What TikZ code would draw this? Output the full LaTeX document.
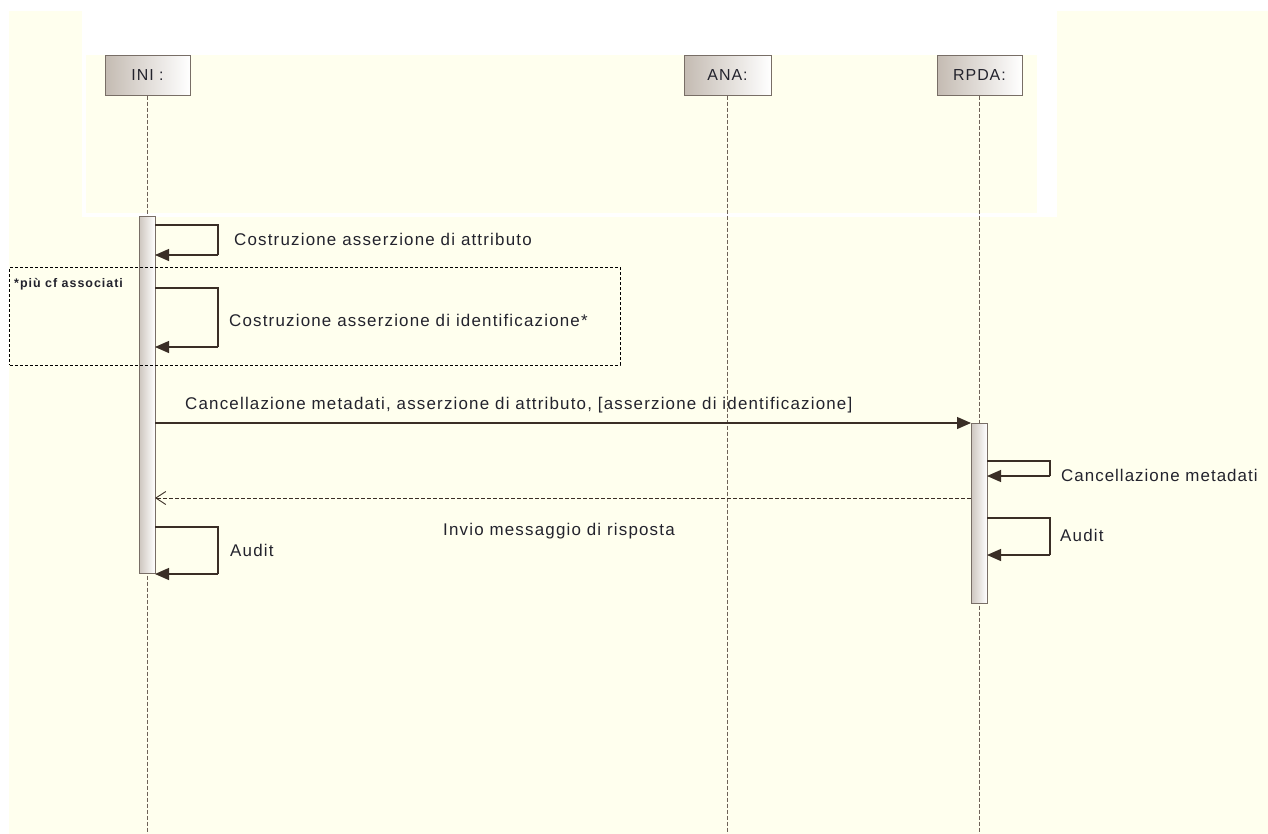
\documentclass[tikz,border=0pt]{standalone}
\usepackage{fontspec}
\setmainfont{Liberation Sans}
\newfontfamily\lblfont[LetterSpace=7]{Liberation Sans}
\newfontfamily\lblfontn[LetterSpace=6]{Liberation Sans}
\newfontfamily\notefont[LetterSpace=8]{Liberation Sans}
\usetikzlibrary{arrows.meta}
\definecolor{cream}{RGB}{255,255,238}
\definecolor{boxline}{RGB}{120,110,102}
\definecolor{boxshade}{RGB}{196,187,178}
\definecolor{msgline}{RGB}{58,46,38}
\definecolor{lifeline}{RGB}{110,98,88}
\definecolor{txt}{RGB}{35,35,45}
\tikzset{
  x=1bp, y=-1bp,
  head/.style={draw=boxline, line width=1bp, left color=boxshade, right color=white,
    minimum width=85bp, minimum height=40bp, inner sep=0pt, text=txt, font=\lblfontn\fontsize{16}{18}\selectfont},
  actbar/.style={draw=boxline, line width=1bp, left color=boxshade!85, right color=white,
    minimum width=16bp, inner sep=0pt},
  life/.style={draw=lifeline, line width=1bp, dash pattern=on 4bp off 2bp},
  msg/.style={draw=msgline, line width=1.2bp},
  fillarrow/.style={-{Triangle[length=14bp,width=12bp]}},
  openarrow/.style={-{Straight Barb[length=10bp,width=13bp,line width=0.9bp]}},
  lbl/.style={text=txt, font=\lblfont\fontsize{17}{19}\selectfont, inner sep=0pt, anchor=west},
  note/.style={text=txt, font=\notefont\bfseries\fontsize{12.5}{14}\selectfont, inner sep=0pt, anchor=north west}
}
\begin{document}
\begin{tikzpicture}
\useasboundingbox (0,0) rectangle (1268,834);
% background
\fill[white] (0,0) rectangle (1268,834);
\fill[cream] (9,11) rectangle (1268,834);
\fill[white] (82,0) rectangle (1057,217);
\fill[cream] (86,55) rectangle (1037,213);
% lifeline heads
\node[head] (ini) at (147.5,75) {INI :};
\node[head, minimum width=87bp] (ana) at (727.5,75) {ANA:};
\node[head] (rpda) at (979.5,75) {RPDA:};
% lifelines
\coordinate (iniend) at (147.5,834);
\coordinate (anaend) at (727.5,834);
\coordinate (rpdaend) at (979.5,834);
\draw[life] (ini.south) -- (iniend);
\draw[life] (ana.south) -- (anaend);
\draw[life] (rpda.south) -- (rpdaend);
% activation bars
\node[actbar, minimum height=356bp] (iniact) at (147,395) {};
\node[actbar, minimum height=180bp] (rpdaact) at (979,513) {};
% combined fragment note
\node[draw=black, line width=1bp, dash pattern=on 3bp off 2bp, minimum width=610bp, minimum height=98bp, inner sep=0pt] (frag) at (315,316) {};
\node[note] (fragtxt) at (14,278) {*più cf associati};
% self message 1
\coordinate (s1a) at (155,225);
\coordinate (s1b) at (218,225);
\coordinate (s1c) at (218,255);
\coordinate (s1d) at (155,255);
\draw[msg] (s1a) -- (s1b) -- (s1c);
\draw[msg, fillarrow] (s1c) -- (s1d);
\node[lbl] (l1) at (234,239) {Costruzione asserzione di attributo};
% self message 2
\coordinate (s2a) at (155,288);
\coordinate (s2b) at (218,288);
\coordinate (s2c) at (218,347);
\coordinate (s2d) at (155,347);
\draw[msg] (s2a) -- (s2b) -- (s2c);
\draw[msg, fillarrow] (s2c) -- (s2d);
\node[lbl] (l2) at (229,320) {Costruzione asserzione di identificazione*};
% main message
\coordinate (m1a) at (155,423);
\coordinate (m1b) at (971,423);
\draw[msg, fillarrow] (m1a) -- (m1b);
\node[lbl] (l3) at (185,405) {Cancellazione metadati, asserzione di attributo, [asserzione di identificazione]};
% RPDA self message
\coordinate (s3a) at (987,461);
\coordinate (s3b) at (1050,461);
\coordinate (s3c) at (1050,476);
\coordinate (s3d) at (987,476);
\draw[msg] (s3a) -- (s3b) -- (s3c);
\draw[msg, fillarrow] (s3c) -- (s3d);
\node[lbl, font=\lblfontn\fontsize{17}{19}\selectfont] (l4) at (1061,475) {Cancellazione metadati};
% return message
\coordinate (r1a) at (971,498);
\coordinate (r1b) at (155,498);
\draw[msg, line width=1bp, dash pattern=on 4bp off 2bp, openarrow] (r1a) -- (r1b);
\node[lbl] (l5) at (443,531) {Invio messaggio di risposta};
% RPDA audit
\coordinate (s4a) at (987,518);
\coordinate (s4b) at (1050,518);
\coordinate (s4c) at (1050,555);
\coordinate (s4d) at (987,555);
\draw[msg] (s4a) -- (s4b) -- (s4c);
\draw[msg, fillarrow] (s4c) -- (s4d);
\node[lbl] (l6) at (1060,535) {Audit};
% INI audit
\coordinate (s5a) at (155,527);
\coordinate (s5b) at (218,527);
\coordinate (s5c) at (218,574);
\coordinate (s5d) at (155,574);
\draw[msg] (s5a) -- (s5b) -- (s5c);
\draw[msg, fillarrow] (s5c) -- (s5d);
\node[lbl] (l7) at (230,550) {Audit};
\end{tikzpicture}
\end{document}
